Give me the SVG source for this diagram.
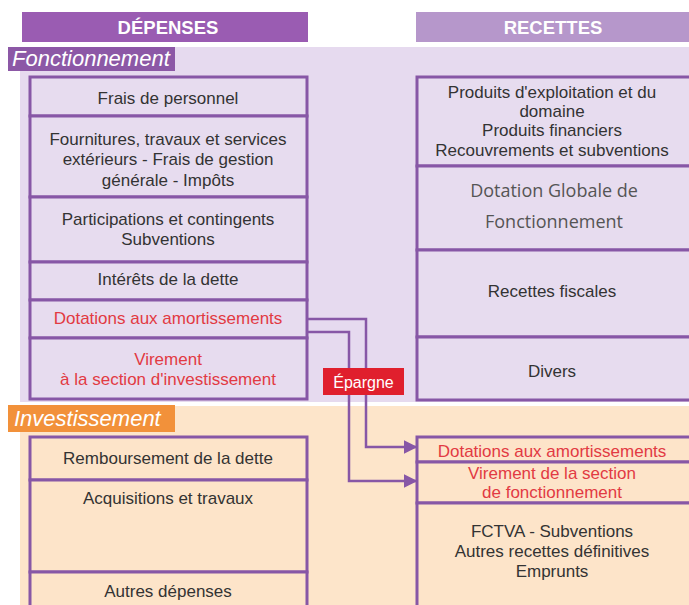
<svg xmlns="http://www.w3.org/2000/svg" width="689" height="605" viewBox="0 0 689 605">
<defs>
<style>
.box{stroke:#8757a6;stroke-width:3;}
.f{fill:#e7dcef;}
.p{fill:#fde4c9;}
.t{font-family:"Liberation Sans",Arial,sans-serif;font-size:17px;fill:#333;text-anchor:middle;}
.r{fill:#e23a43;}
.hd{font-family:"Liberation Sans",Arial,sans-serif;font-size:18.5px;font-weight:bold;fill:#fff;text-anchor:middle;}
.sec{font-family:"Liberation Sans",Arial,sans-serif;font-size:22px;font-style:italic;fill:#fff;}
.dg{font-family:"Open Sans","Noto Sans",sans-serif;font-size:18px;fill:#555;text-anchor:middle;}
.conn{fill:none;stroke:#8757a6;stroke-width:2.5;}
</style>
<marker id="arr" viewBox="0 0 10 10" refX="9" refY="5" markerWidth="5.5" markerHeight="5.5" orient="auto" markerUnits="strokeWidth">
<path d="M0,0 L10,5 L0,10 z" fill="#8757a6"/>
</marker>
</defs>
<rect width="689" height="605" fill="#ffffff"/>
<!-- backgrounds -->
<rect x="20" y="47" width="669" height="355" fill="#e6daef"/>
<rect x="20" y="406" width="669" height="199" fill="#fde5ca"/>
<!-- headers -->
<g id="h-depenses">
<rect x="22" y="12" width="286" height="30" fill="#9a5cb2"/>
<text class="hd" x="168" y="34">DÉPENSES</text>
</g>
<g id="h-recettes">
<rect x="416" y="12" width="273" height="30" fill="#b697cb"/>
<text class="hd" x="553" y="34">RECETTES</text>
</g>
<g id="s-fonct">
<rect x="8" y="47" width="167" height="24" fill="#8c58a6"/>
<text class="sec" x="12" y="66">Fonctionnement</text>
</g>
<g id="s-invest">
<rect x="8" y="405" width="167" height="27" fill="#f2913a"/>
<text class="sec" x="14" y="426">Investissement</text>
</g>
<!-- Fonctionnement dépenses -->
<g id="d1"><rect class="box f" x="30" y="77" width="277" height="39"/><text class="t" x="168" y="104">Frais de personnel</text></g>
<g id="d2"><rect class="box f" x="30" y="116" width="277" height="81"/>
<text class="t" x="168" y="145">Fournitures, travaux et services</text>
<text class="t" x="168" y="165">extérieurs - Frais de gestion</text>
<text class="t" x="168" y="186">générale - Impôts</text></g>
<g id="d3"><rect class="box f" x="30" y="197" width="277" height="65"/>
<text class="t" x="168" y="225">Participations et contingents</text>
<text class="t" x="168" y="245">Subventions</text></g>
<g id="d4"><rect class="box f" x="30" y="262" width="277" height="38"/><text class="t" x="168" y="285">Intérêts de la dette</text></g>
<g id="d5"><rect class="box f" x="30" y="300" width="277" height="38"/><text class="t r" x="168" y="324">Dotations aux amortissements</text></g>
<g id="d6"><rect class="box f" x="30" y="338" width="277" height="61"/>
<text class="t r" x="168" y="365">Virement</text>
<text class="t r" x="168" y="385">à la section d'investissement</text></g>
<!-- Fonctionnement recettes -->
<g id="r1"><rect class="box f" x="417" y="77" width="280" height="89"/>
<text class="t" x="552" y="98">Produits d'exploitation et du</text>
<text class="t" x="552" y="117">domaine</text>
<text class="t" x="552" y="136">Produits financiers</text>
<text class="t" x="552" y="156">Recouvrements et subventions</text></g>
<g id="r2"><rect class="box f" x="417" y="166" width="280" height="84"/>
<text class="dg" x="554" y="197">Dotation Globale de</text>
<text class="dg" x="554" y="228">Fonctionnement</text></g>
<g id="r3"><rect class="box f" x="417" y="250" width="280" height="87"/><text class="t" x="552" y="297">Recettes fiscales</text></g>
<g id="r4"><rect class="box f" x="417" y="337" width="280" height="63"/><text class="t" x="552" y="377">Divers</text></g>
<!-- Investissement dépenses -->
<g id="i1"><rect class="box p" x="30" y="437" width="277" height="43"/><text class="t" x="168" y="464">Remboursement de la dette</text></g>
<g id="i2"><rect class="box p" x="30" y="480" width="277" height="92"/><text class="t" x="168" y="504">Acquisitions et travaux</text></g>
<g id="i3"><rect class="box p" x="30" y="572" width="277" height="40"/><text class="t" x="168" y="597">Autres dépenses</text></g>
<!-- Investissement recettes -->
<g id="j1"><rect class="box p" x="417" y="437" width="280" height="25"/><text class="t r" x="552" y="457">Dotations aux amortissements</text></g>
<g id="j2"><rect class="box p" x="417" y="462" width="280" height="41"/>
<text class="t r" x="552" y="479">Virement de la section</text>
<text class="t r" x="552" y="498">de fonctionnement</text></g>
<g id="j3"><rect class="box p" x="417" y="503" width="280" height="110"/>
<text class="t" x="552" y="537">FCTVA - Subventions</text>
<text class="t" x="552" y="557">Autres recettes définitives</text>
<text class="t" x="552" y="577">Emprunts</text></g>
<!-- connectors -->
<g id="connectors">
<path class="conn" d="M307,319 H366 V447 H416" marker-end="url(#arr)"/>
<path class="conn" d="M307,332 H349 V481 H416" marker-end="url(#arr)"/>
</g>
<g id="epargne">
<rect x="323" y="368" width="81" height="27" fill="#e01f2d"/>
<text x="363.5" y="388" font-family="Liberation Sans, Arial, sans-serif" font-size="16px" fill="#fff" text-anchor="middle">Épargne</text>
</g>
</svg>
